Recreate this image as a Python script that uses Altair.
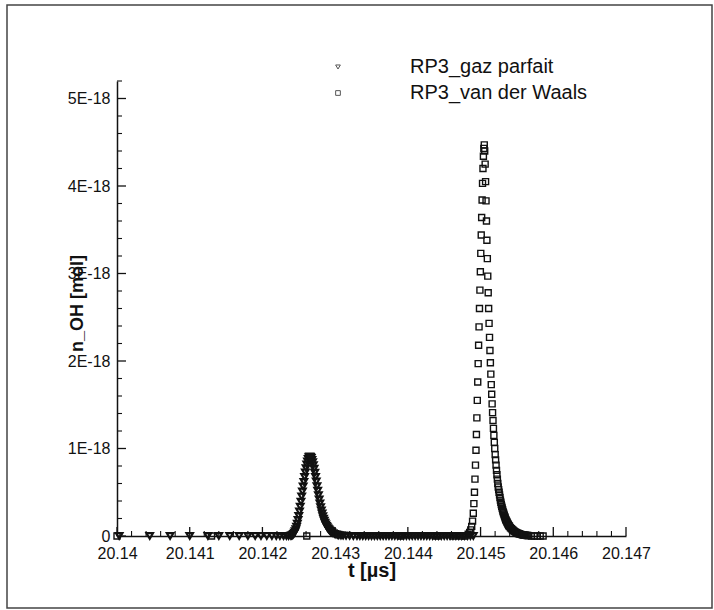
import altair as alt
import pandas as pd

# ---------------- data ----------------
series_names = ["RP3_gaz parfait", "RP3_van der Waals"]
series_shapes = ["triangle-down", "square"]

# RP3_gaz parfait  (t in µs, n_OH in units of 1E-18 mol)
t_gaz = [20.14003, 20.14045, 20.14073, 20.14100, 20.14125, 20.14140, 20.14155, 20.14168,
         20.14180, 20.14190, 20.14198, 20.14206, 20.14213, 20.14219, 20.14224, 20.14229,
         20.14233, 20.14236,
         20.14239, 20.14240, 20.14241, 20.14242, 20.14243, 20.14244, 20.14245, 20.14246,
         20.14247, 20.14248, 20.14249, 20.14250, 20.14251, 20.14252, 20.14253, 20.14254,
         20.14255, 20.14256, 20.14257, 20.14258, 20.14259, 20.14260, 20.14261, 20.14262,
         20.14263, 20.14264, 20.14265,
         20.14266, 20.14267, 20.14268, 20.14269, 20.14270, 20.14271, 20.14272, 20.14273,
         20.14274, 20.14275, 20.14276, 20.14277, 20.14278, 20.14279, 20.14280, 20.14281,
         20.14282, 20.14283, 20.14284, 20.14285, 20.14286, 20.14287, 20.14288, 20.14289,
         20.14290, 20.14291, 20.14292, 20.14293, 20.14294, 20.14295, 20.14297, 20.14299,
         20.14301, 20.14303, 20.14305, 20.14308, 20.14311, 20.14315, 20.14320, 20.14325,
         20.14330, 20.14334, 20.14338, 20.14342, 20.14346, 20.14350, 20.14354, 20.14358,
         20.14362, 20.14366, 20.14370, 20.14374, 20.14378, 20.14382, 20.14386, 20.14390,
         20.14394, 20.14398, 20.14402, 20.14406, 20.14410, 20.14414, 20.14418, 20.14422,
         20.14426, 20.14430, 20.14434, 20.14438, 20.14442, 20.14446, 20.14450, 20.14454,
         20.14458, 20.14462, 20.14466, 20.14470, 20.14474, 20.14478, 20.14482, 20.14486,
         20.14490]
n_gaz = [0, 0, 0, 0, 0, 0, 0, 0,
         0, 0, 0, 0, 0, 0, 0, 0,
         0, 0,
         0.003, 0.005, 0.009, 0.015, 0.024, 0.037, 0.055, 0.078,
         0.107, 0.142, 0.183, 0.229, 0.280, 0.335, 0.393, 0.452,
         0.510, 0.566, 0.619, 0.675, 0.728, 0.776, 0.818, 0.853,
         0.881, 0.900, 0.910,
         0.905, 0.892, 0.871, 0.843, 0.809, 0.769, 0.724, 0.675,
         0.623, 0.570, 0.517, 0.466, 0.418, 0.373, 0.331, 0.293,
         0.258, 0.227, 0.199, 0.174, 0.152, 0.133, 0.116, 0.101,
         0.088, 0.077, 0.067, 0.058, 0.050, 0.044, 0.033, 0.025,
         0.019, 0.014, 0.010, 0.007, 0.005, 0.003, 0.002, 0.001,
         0, 0, 0, 0, 0, 0, 0, 0,
         0, 0, 0, 0, 0, 0, 0, 0,
         0, 0, 0, 0, 0, 0, 0, 0,
         0, 0, 0, 0, 0, 0, 0, 0,
         0, 0, 0, 0, 0, 0, 0, 0,
         0]

# RP3_van der Waals
t_vdw = [20.14000, 20.14130, 20.14261, 20.14390, 20.14440, 20.14462, 20.14472, 20.14478,
         20.144830, 20.144850, 20.144865, 20.144878, 20.144890, 20.144900, 20.144908, 20.144916,
         20.144923, 20.144930, 20.144937, 20.144943, 20.144949, 20.144955, 20.144961, 20.144967,
         20.144973, 20.144979, 20.144985, 20.144991, 20.144997, 20.145003, 20.145009, 20.145015,
         20.145021, 20.145027, 20.145033, 20.145039, 20.145045, 20.145051,
         20.145057, 20.145063, 20.145069, 20.145075, 20.145081, 20.145087, 20.145093, 20.145099,
         20.145105, 20.145111, 20.145117, 20.145123, 20.145129, 20.145135, 20.145141, 20.145147,
         20.145153, 20.145159, 20.145165, 20.145171, 20.145177, 20.145183, 20.145189, 20.145195,
         20.145201, 20.145207, 20.145213, 20.145219, 20.145225, 20.145231, 20.145237, 20.145243,
         20.145249, 20.145255, 20.145261, 20.145267, 20.145273, 20.145279, 20.145285, 20.145291,
         20.145297, 20.145303, 20.145309, 20.145315, 20.145321, 20.145327, 20.145333, 20.145339,
         20.145345, 20.145351, 20.145357, 20.145363, 20.145369, 20.145375, 20.145381, 20.145387,
         20.145393, 20.145399, 20.145411, 20.145423, 20.145435, 20.145447, 20.145459, 20.145471,
         20.145483, 20.145495, 20.145507, 20.145519, 20.145531, 20.145543, 20.145555, 20.145567,
         20.145579, 20.145591, 20.145603, 20.145615, 20.145627, 20.145639, 20.145651, 20.145663,
         20.14570, 20.14574, 20.14578, 20.14582, 20.14586]
n_vdw = [0, 0, 0, 0, 0, 0, 0, 0,
         0.02, 0.04, 0.07, 0.11, 0.17, 0.26, 0.37, 0.50,
         0.65, 0.81, 0.98, 1.16, 1.35, 1.55, 1.76, 1.97,
         2.18, 2.39, 2.60, 2.81, 3.02, 3.23, 3.44, 3.64,
         3.84, 4.03, 4.20, 4.34, 4.43, 4.47,
         4.40, 4.25, 4.05, 3.83, 3.60, 3.38, 3.17, 2.97,
         2.78, 2.60, 2.43, 2.27, 2.12, 1.98, 1.85, 1.73,
         1.62, 1.51, 1.41, 1.32, 1.23, 1.15, 1.07, 1.00,
         0.93, 0.87, 0.81, 0.75, 0.70, 0.65, 0.60, 0.56,
         0.53, 0.50, 0.47, 0.44, 0.41, 0.385, 0.36, 0.34,
         0.32, 0.30, 0.28, 0.265, 0.25, 0.235, 0.22, 0.205,
         0.19, 0.18, 0.17, 0.16, 0.15, 0.14, 0.13, 0.122,
         0.115, 0.108, 0.095, 0.084, 0.074, 0.065, 0.057, 0.050,
         0.044, 0.038, 0.033, 0.029, 0.025, 0.022, 0.019, 0.016,
         0.014, 0.012, 0.010, 0.008, 0.007, 0.006, 0.005, 0.004,
         0, 0, 0, 0, 0]

# axis ticks
x_major = [20.140, 20.141, 20.142, 20.143, 20.144, 20.145, 20.146, 20.147]
x_minor = [20.1402, 20.1404, 20.1406, 20.1408, 20.1412, 20.1414, 20.1416, 20.1418,
           20.1422, 20.1424, 20.1426, 20.1428, 20.1432, 20.1434, 20.1436, 20.1438,
           20.1442, 20.1444, 20.1446, 20.1448, 20.1452, 20.1454, 20.1456, 20.1458,
           20.1462, 20.1464, 20.1466, 20.1468]
y_major = [0, 1, 2, 3, 4, 5]
y_minor = [0.2, 0.4, 0.6, 0.8, 1.2, 1.4, 1.6, 1.8, 2.2, 2.4, 2.6, 2.8,
           3.2, 3.4, 3.6, 3.8, 4.2, 4.4, 4.6, 4.8, 5.2]

# ---------------- build ----------------
df = pd.concat([
    pd.DataFrame({"t": t_gaz, "n": n_gaz, "series": series_names[0]}),
    pd.DataFrame({"t": t_vdw, "n": n_vdw, "series": series_names[1]}),
], ignore_index=True)

FONT = "Liberation Sans"
W, H = 509, 455
xscale = alt.Scale(domain=[20.14, 20.147], nice=False, zero=False)
yscale = alt.Scale(domain=[0, 5.2], nice=False, zero=True)

xaxis = alt.Axis(
    values=x_major, format=".3~f", labelFont=FONT, labelFontSize=16,
    labelColor="#111111", ticks=False, grid=False, domainColor="#111111",
    domainWidth=1.5, labelPadding=9, labelOverlap=False, labelFlush=False,
    title="t [µs]", titleFont=FONT, titleFontSize=20, titleFontWeight="bold",
    titleColor="#111111", titleY=34, titleBaseline="middle")
yaxis = alt.Axis(
    values=y_major, labelExpr="datum.value == 0 ? '0' : datum.value + 'E-18'",
    labelFont=FONT, labelFontSize=16, labelColor="#111111", ticks=False,
    grid=False, domainColor="#111111", domainWidth=1.5, labelPadding=7,
    labelOverlap=False, labelFlush=False,
    title="n_OH [mol]", titleFont=FONT, titleFontSize=18, titleFontWeight="bold",
    titleColor="#111111", titleAngle=270, titleX=-40, titleY=222,
    titleAlign="center", titleBaseline="middle")

points = alt.Chart(df).mark_point(
    filled=False, color="#111111", opacity=1, clip=False
).encode(
    x=alt.X("t:Q", scale=xscale, axis=xaxis),
    y=alt.Y("n:Q", scale=yscale, axis=yaxis),
    shape=alt.Shape("series:N", scale=alt.Scale(domain=series_names, range=series_shapes),
                    legend=None),
    size=alt.Size("series:N", scale=alt.Scale(domain=series_names, range=[42, 36]),
                  legend=None),
    strokeWidth=alt.StrokeWidth("series:N", scale=alt.Scale(domain=series_names, range=[2.2, 1.4]),
                                legend=None),
)

ymaj = alt.Chart(pd.DataFrame({"n": y_major})).mark_rule(color="#111111", strokeWidth=1.3).encode(
    y=alt.Y("n:Q", scale=yscale, axis=yaxis), x=alt.value(0), x2=alt.value(9))
ymin = alt.Chart(pd.DataFrame({"n": y_minor})).mark_rule(color="#111111", strokeWidth=1.1).encode(
    y=alt.Y("n:Q", scale=yscale, axis=yaxis), x=alt.value(0), x2=alt.value(5))
xmaj = alt.Chart(pd.DataFrame({"t": x_major})).mark_rule(color="#111111", strokeWidth=1.3).encode(
    x=alt.X("t:Q", scale=xscale, axis=xaxis), y=alt.value(H), y2=alt.value(H - 9))
xmin = alt.Chart(pd.DataFrame({"t": x_minor})).mark_rule(color="#111111", strokeWidth=1.1).encode(
    x=alt.X("t:Q", scale=xscale, axis=xaxis), y=alt.value(H), y2=alt.value(H - 5))

one = pd.DataFrame({"a": [0]})
frame = alt.Chart(one).mark_rect(
    fillOpacity=0, stroke="#444444", strokeWidth=1.5, clip=False
).encode(x=alt.value(-110), x2=alt.value(595), y=alt.value(-76), y2=alt.value(527))

leg_layers = []
for i, (name, shp) in enumerate(zip(series_names, series_shapes)):
    ypix = -14 + 26 * i
    ldf = pd.DataFrame({"name": [name]})
    leg_layers.append(
        alt.Chart(ldf).mark_point(shape=shp, filled=False, size=22, strokeWidth=1,
                                  color="#555555", opacity=1, clip=False)
        .encode(x=alt.value(221), y=alt.value(ypix)))
    leg_layers.append(
        alt.Chart(ldf).mark_text(align="left", baseline="middle", font=FONT, fontSize=20,
                                 color="#111111", clip=False)
        .encode(text="name:N", x=alt.value(293), y=alt.value(ypix)))

chart = alt.layer(points, xmin, xmaj, ymin, ymaj, frame, *leg_layers).properties(
    width=W, height=H,
    autosize=alt.AutoSizeParams(type="none"),
    padding={"left": 117, "top": 81, "right": 88, "bottom": 74},
    background="white",
).configure_view(stroke=None)

chart.save("out.html", embed_options={"renderer": "svg", "actions": False})
